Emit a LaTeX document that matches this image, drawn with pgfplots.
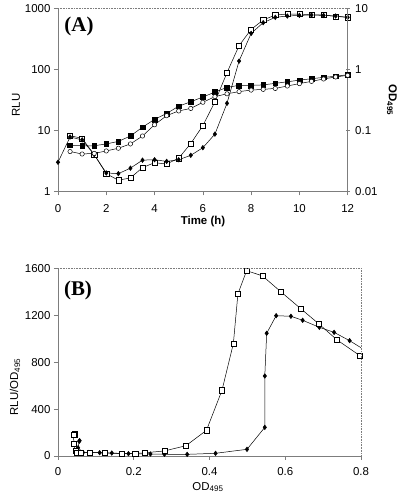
\documentclass[border=0pt]{standalone}
\usepackage{pgfplots}
\pgfplotsset{compat=1.18}
\usepackage{fontspec}
\setmainfont{Liberation Sans}
\newfontfamily\serifbf{Liberation Serif}
\definecolor{axgray}{RGB}{125,125,125}

\begin{document}
\begin{tikzpicture}
\useasboundingbox (0bp,0bp) rectangle (400bp,496bp);
\pgfplotsset{
  every axis/.append style={
    scale only axis,
    font=\fontsize{11.5}{12}\selectfont,
    /pgf/number format/assume math mode=true,
    axis line style={axgray, line width=0.7pt},
    tick style={axgray, line width=0.7pt},
    major tick length=4bp,
    minor tick num=0,
  },
  opensq/.style={black, line width=0.5pt, mark=square*, mark size=2.6, mark options={solid, fill=white, draw=black, line width=0.5pt}},
  fillsq/.style={black, line width=0.5pt, mark=square*, mark size=2.4, mark options={solid, fill=black}},
  fdiam/.style={black, line width=0.5pt, mark=diamond*, mark size=2.3, mark options={solid, fill=black}},
  ocirc/.style={black, line width=0.5pt, mark=*, mark size=2.2, mark options={solid, fill=white, draw=black, line width=0.5pt}},
}

% ---------------- Panel A : left axis (RLU) ----------------
\begin{axis}[
  at={(58bp,304.7bp)}, anchor=south west,
  width=289.7bp, height=182.6bp,
  xmin=0, xmax=12,
  ymode=log, ymin=1, ymax=1000,
  axis x line*=bottom, axis y line*=left,
  tick align=outside,
  xtick={0,2,4,6,8,10,12},
  xticklabels={0,2,4,6,8,10,12},
  ytick={1,10,100,1000},
  yticklabels={1,10,100,1000},
  yminorticks=false,
  xticklabel style={yshift=-6bp},
  after end axis/.code={
    \draw[axgray, densely dotted, line width=0.6pt] (rel axis cs:0,1) -- (rel axis cs:1,1);
  },
]
\addplot[opensq] coordinates {
(0.5,8.2)(1,7.4)(1.5,4.0)(2,1.95)(2.5,1.52)(3,1.66)(3.5,2.45)(4,2.95)(4.5,2.8)(5,3.5)(5.5,6.1)(6,12)(6.5,29.5)(7,89)(7.5,247)(8,457)(8.5,652)(9,787)(9.5,817)(10,817)(10.5,797)(11,787)(11.5,748)(12,721)
};
\addplot[fdiam] coordinates {
(0,3.0)(0.5,7.8)(1,7.0)(1.5,4.0)(2,2.0)(2.5,1.95)(3,2.4)(3.5,3.25)(4,3.3)(4.5,3.1)(5,3.3)(5.5,3.9)(6,5.2)(6.5,8.7)(7,27.9)(7.5,138)(8,393)(8.5,589)(9,721)(9.5,758)(10,776)(10.5,787)(11,776)(11.5,758)(12,721)
};
\end{axis}

% ---------------- Panel A : right axis (OD495) ----------------
\begin{axis}[
  at={(58bp,304.7bp)}, anchor=south west,
  width=289.7bp, height=182.6bp,
  xmin=0, xmax=12,
  ymode=log, ymin=0.01, ymax=10,
  hide x axis,
  axis y line*=right,
  tick align=center,
  ytick={0.01,0.1,1,10},
  yticklabels={0.01,0.1,1,10},
  yminorticks=false,
  yticklabel style={xshift=2bp},
]
\addplot[fillsq] coordinates {
(0.5,0.057)(1,0.056)(1.5,0.056)(2,0.060)(2.5,0.066)(3,0.081)(3.5,0.113)(4,0.152)(4.5,0.19)(5,0.25)(5.5,0.296)(6,0.354)(6.5,0.426)(7,0.51)(7.5,0.55)(8,0.55)(8.5,0.56)(9,0.594)(9.5,0.63)(10,0.67)(10.5,0.707)(11,0.745)(11.5,0.775)(12,0.824)
};
\addplot[ocirc] coordinates {
(0.5,0.045)(1,0.041)(1.5,0.042)(2,0.046)(2.5,0.051)(3,0.060)(3.5,0.081)(4,0.124)(4.5,0.175)(5,0.209)(5.5,0.23)(6,0.29)(6.5,0.359)(7,0.40)(7.5,0.434)(8,0.46)(8.5,0.473)(9,0.49)(9.5,0.537)(10,0.588)(10.5,0.64)(11,0.70)(11.5,0.756)(12,0.804)
};
\end{axis}

% ---------------- Panel B ----------------
\begin{axis}[
  at={(58bp,40bp)}, anchor=south west,
  width=303bp, height=187.7bp,
  xmin=0, xmax=0.8,
  ymin=0, ymax=1600,
  axis x line*=bottom, axis y line*=left,
  tick align=outside,
  xtick={0,0.2,0.4,0.6,0.8},
  xticklabels={0,0.2,0.4,0.6,0.8},
  ytick={0,400,800,1200,1600},
  yticklabels={0,400,800,1200,1600},
  scaled ticks=false,
  xticklabel style={yshift=-4bp},
  after end axis/.code={
    \draw[axgray, densely dotted, line width=0.6pt] (rel axis cs:0,1) -- (rel axis cs:1,1) -- (rel axis cs:1,0);
  },
]
\addplot[fdiam] coordinates {
(0.057,131)(0.056,125)(0.053,70)(0.060,33)(0.066,30)(0.081,30)(0.110,28)(0.142,25)(0.186,20)(0.244,17)(0.281,15)(0.341,14)(0.416,23)(0.499,57)(0.546,244)(0.546,682)(0.551,1046)(0.576,1196)(0.615,1191)(0.646,1157)(0.690,1097)(0.729,1054)(0.770,983)(0.824,875)
};
\addplot[opensq] coordinates {
(0.044,185)(0.041,183)(0.042,105)(0.046,42)(0.051,30)(0.060,28)(0.083,30)(0.123,26)(0.169,19)(0.204,21)(0.228,27)(0.281,43)(0.338,88)(0.392,219)(0.433,560)(0.463,958)(0.475,1381)(0.498,1580)(0.540,1535)(0.588,1401)(0.642,1253)(0.688,1128)(0.737,989)(0.796,858)(0.84,770)
};
\end{axis}

% ---------------- Labels ----------------
\begin{scope}[x=1bp,y=1bp]
\node[rotate=90, font=\fontsize{11.5}{12}\selectfont] at (16,391) {RLU};
\node[font=\bfseries\fontsize{11.5}{12}\selectfont] at (203,274) {Time (h)};
\node[rotate=-90, font=\bfseries\fontsize{11.5}{12}\selectfont] at (392,396) {OD\textsubscript{495}};
\node[font=\serifbf\bfseries\fontsize{21}{21}\selectfont] at (79,469.5) {(A)};

\node[rotate=90, font=\fontsize{11.5}{12}\selectfont] at (15,109) {RLU/OD\textsubscript{495}};
\node[font=\fontsize{11.5}{12}\selectfont] at (208,9) {OD\textsubscript{495}};
\node[font=\serifbf\bfseries\fontsize{21}{21}\selectfont] at (78,206) {(B)};
\end{scope}
\end{tikzpicture}
\end{document}
